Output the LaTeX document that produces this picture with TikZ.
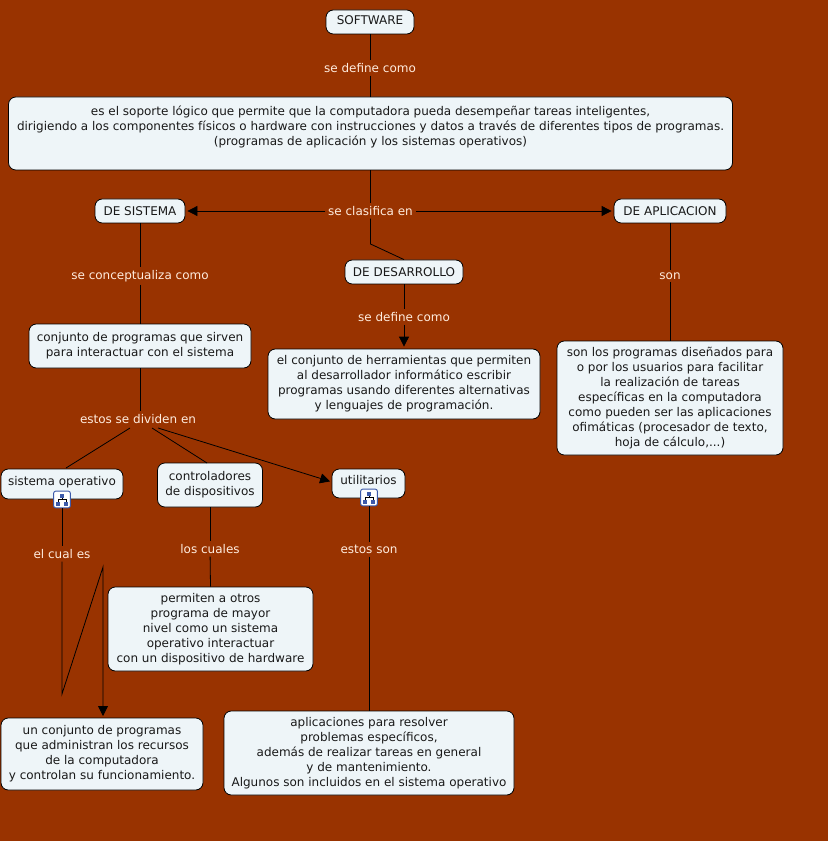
\documentclass[tikz,border=0pt]{standalone}
\usepackage{fontspec}
\setmainfont{DejaVu Sans}
\usetikzlibrary{arrows.meta}
\definecolor{bgbrown}{RGB}{153,51,0}
\definecolor{boxfill}{RGB}{238,245,248}
\definecolor{lbltext}{RGB}{255,236,222}
\definecolor{iconblue}{RGB}{60,90,170}
\tikzset{
  x=0.75pt,y=-0.75pt,
  concept/.style={draw=black,line width=0.6pt,fill=boxfill,rounded corners=5.5pt,align=center,inner sep=0pt,font=\fontsize{9pt}{11.25pt}\selectfont,text=black!90},
  linklabel/.style={align=center,inner sep=2pt,font=\fontsize{9pt}{11.25pt}\selectfont,text=lbltext},
  link/.style={draw=black,line width=0.6pt},
  arrowlink/.style={link,-{Triangle[length=7.5pt,width=7.5pt]},shorten >=1.5pt},
  iconbox/.style={draw=iconblue,line width=0.7pt,fill=white,rounded corners=1.5pt,minimum width=12.5pt,minimum height=12.5pt,inner sep=0pt},
}
\newcommand{\conceptbox}[6]{\node[concept,minimum width=#4*0.75pt,minimum height=#5*0.75pt] (#1) at (#2,#3) {#6};}
\newcommand{\updepth}[1]{\rule[-#1]{0pt}{#1}}
\newcommand{\treeicon}[1]{%
  \begin{scope}[shift={(#1.center)}]
    \fill[iconblue] (-2,-6) rectangle (2,-2);
    \fill[iconblue] (-6,2) rectangle (-2,6);
    \fill[iconblue] (2,2) rectangle (6,6);
    \draw[black,line width=0.4pt] (0,-2) -- (0,0) (-4,2) -- (-4,0) -- (4,0) -- (4,2);
  \end{scope}}
\begin{document}
\begin{tikzpicture}
\fill[bgbrown] (0,0) rectangle (828,841);
\useasboundingbox (0,0) rectangle (828,841);

\conceptbox{soft}{370}{22}{88}{24}{SOFTWARE\updepth{3.5pt}}
\conceptbox{def}{370.5}{133.5}{724}{73}{es el soporte lógico que permite que la computadora pueda desempeñar tareas inteligentes,\\dirigiendo a los componentes físicos o hardware con instrucciones y datos a través de diferentes tipos de programas.\\(programas de aplicación y los sistemas operativos)\updepth{11.5pt}}
\conceptbox{sis}{140}{211}{90}{24}{DE SISTEMA}
\conceptbox{apl}{670}{211}{112}{24}{DE APLICACION}
\conceptbox{des}{404}{272}{118}{24}{DE DESARROLLO}
\conceptbox{cpro}{140}{346}{222}{44}{conjunto de programas que sirven\\para interactuar con el sistema}
\conceptbox{cher}{404}{384}{272}{70}{el conjunto de herramientas que permiten\\al desarrollador informático escribir\\programas usando diferentes alternativas\\y lenguajes de programación.}
\conceptbox{son}{670}{398}{226}{114}{son los programas diseñados para\\o por los usuarios para facilitar\\la realización de tareas\\específicas en la computadora\\como pueden ser las aplicaciones\\ofimáticas (procesador de texto,\\hoja de cálculo,...)}
\conceptbox{sop}{62}{484}{122}{30}{sistema operativo\updepth{5pt}}
\conceptbox{ctrl}{210}{485}{105}{44}{controladores\\de dispositivos}
\conceptbox{uti}{368.5}{483.5}{73}{29}{utilitarios\updepth{5pt}}
\conceptbox{perm}{210.5}{629}{205}{84}{permiten a otros\\programa de mayor\\nivel como un sistema\\operativo interactuar\\con un dispositivo de hardware}
\conceptbox{ucon}{102}{754}{202}{72}{un conjunto de programas\\que administran los recursos\\de la computadora\\y controlan su funcionamiento.}
\conceptbox{apli}{369}{753}{290}{84}{aplicaciones para resolver\\problemas específicos,\\además de realizar tareas en general\\y de mantenimiento.\\Algunos son incluidos en el sistema operativo}

\node[iconbox] (icona) at (62,499.5) {};
\node[iconbox] (iconb) at (369,497.5) {};
\treeicon{icona}
\treeicon{iconb}

\node[linklabel] (l1) at (370,68) {se define como};
\node[linklabel] (l2) at (370.5,211) {se clasifica en};
\node[linklabel] (l3) at (140,276) {se conceptualiza como};
\node[linklabel] (l4) at (404,317) {se define como};
\node[linklabel] (l5) at (670,276) {son};
\node[linklabel] (l6) at (138,419) {estos se dividen en};
\node[linklabel] (l7) at (62,554) {el cual es};
\node[linklabel] (l8) at (210,549) {los cuales};
\node[linklabel] (l9) at (369,549.5) {estos son};

\coordinate (bendd) at (370.5,244);
\coordinate (za) at (62,694);
\coordinate (zb) at (103,567);
\coordinate (zc) at (103,718);
\coordinate (l6a) at (130,428);
\coordinate (l6b) at (152,428);
\coordinate (l6c) at (158,428);
\coordinate (sopt) at (66,468);
\coordinate (ctrlt) at (207,463);
\coordinate (utit) at (332,482);
\coordinate (l6t) at (140,411);

\draw[link] (soft.south) -- (l1);
\draw[link] (l1) -- (def.north -| l1);
\draw[link] (def.south) -- (l2);
\draw[arrowlink] (l2) -- (sis);
\draw[arrowlink] (l2) -- (apl);
\draw[link] (l2.south) -- (bendd) -- (des.north);
\draw[link] (sis.south) -- (l3);
\draw[link] (l3) -- (cpro.north);
\draw[link] (des.south) -- (l4);
\draw[arrowlink] (l4) -- (cher.north);
\draw[link] (apl.south) -- (l5);
\draw[link] (l5) -- (son.north);
\draw[link] (cpro.south) -- (l6t);
\draw[link] (l6a) -- (sopt);
\draw[link] (l6b) -- (ctrlt);
\draw[arrowlink] (l6c) -- (utit);
\draw[link] (icona.south) -- (l7);
\draw[arrowlink] (l7.south) -- (za) -- (zb) -- (zc);
\draw[link] (ctrl.south) -- (l8);
\draw[link] (l8) -- (perm.north);
\draw[link] (iconb.south) -- (l9);
\draw[link] (l9) -- (apli.north -| l9);
\end{tikzpicture}
\end{document}
